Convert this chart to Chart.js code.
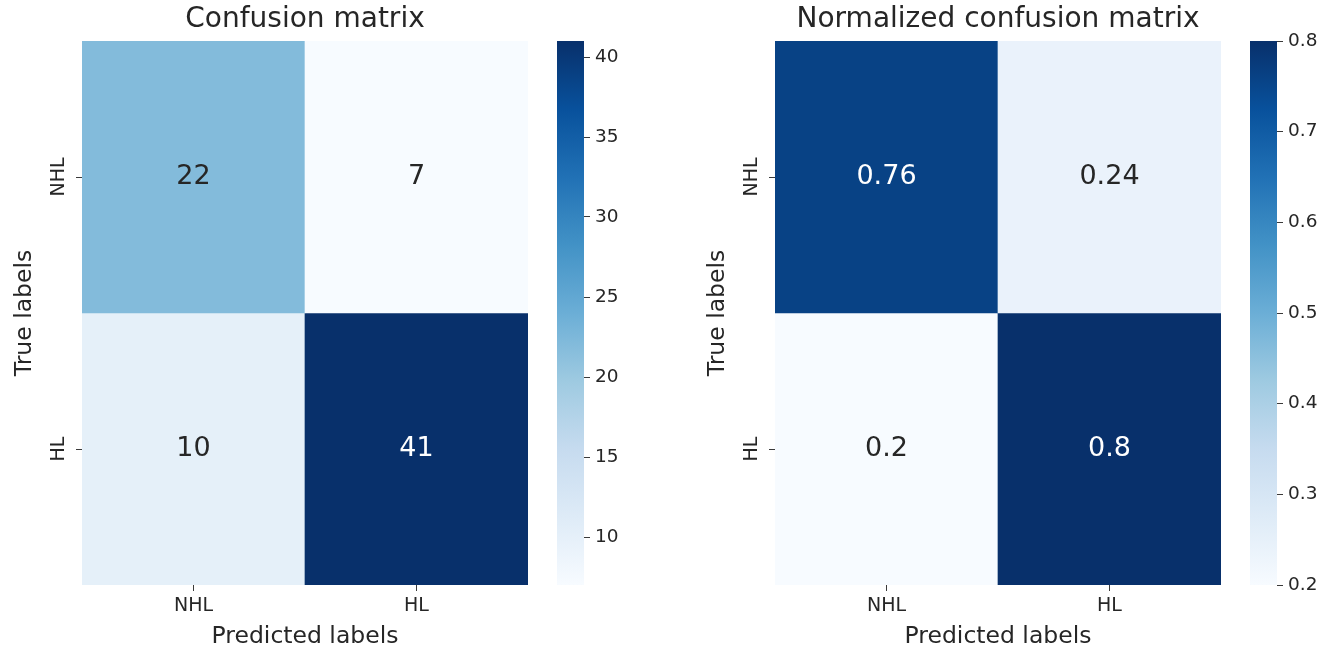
<!DOCTYPE html>
<html>
<head>
<meta charset="utf-8">
<script src="https://cdn.jsdelivr.net/npm/chart.js@4.4.1/dist/chart.umd.min.js"></script>
<style>
  html, body { margin: 0; padding: 0; background: #fff; width: 1327px; height: 652px; overflow: hidden; }
  .box { position: absolute; top: 0; height: 652px; }
</style>
</head>
<body>
<div class="box" style="left:0;width:540px"><canvas id="cm"></canvas></div>
<div class="box" style="left:557px;width:80px"><canvas id="cmBar"></canvas></div>
<div class="box" style="left:693px;width:540px"><canvas id="ncm"></canvas></div>
<div class="box" style="left:1250px;width:77px"><canvas id="ncmBar"></canvas></div>
<script>
// Class names along each axis
const predictedLabels = ['NHL', 'HL'];
const trueLabels = ['NHL', 'HL'];

// Raw counts (rows = true class, columns = predicted class)
const counts = [
  [22, 7],
  [10, 41]
];

// Row-normalised rates
const normalized = [
  [0.76, 0.24],
  [0.2, 0.8]
];

// Colour bar tick values
const countTicks = [10, 15, 20, 25, 30, 35, 40];
const normalizedTicks = [0.2, 0.3, 0.4, 0.5, 0.6, 0.7, 0.8];

// "Blues" sequential colour map stops
const BLUES = ['#f7fbff', '#deebf7', '#c6dbef', '#9ecae1', '#6baed6', '#4292c6', '#2171b5', '#08519c', '#08306b'];

const FONT = 'DejaVu Sans';
const INK = '#262626';
Chart.defaults.font.family = FONT;
Chart.defaults.color = INK;

function hexToRgb(h) {
  return [1, 3, 5].map(i => parseInt(h.slice(i, i + 2), 16));
}
function blues(t) {
  t = Math.min(1, Math.max(0, t));
  const pos = t * (BLUES.length - 1);
  const i = Math.min(Math.floor(pos), BLUES.length - 2);
  const f = pos - i;
  const a = hexToRgb(BLUES[i]), b = hexToRgb(BLUES[i + 1]);
  return a.map((c, k) => Math.round(c + (b[k] - c) * f));
}
function rgbStr(c) { return 'rgb(' + c.join(',') + ')'; }
function luminance(c) {
  const l = c.map(v => {
    v /= 255;
    return v <= 0.03928 ? v / 12.92 : Math.pow((v + 0.055) / 1.055, 2.4);
  });
  return 0.2126 * l[0] + 0.7152 * l[1] + 0.0722 * l[2];
}

// Writes each cell's value in its centre
const cellText = {
  id: 'cellText',
  afterDatasetsDraw(chart) {
    const { ctx } = chart;
    ctx.save();
    ctx.font = '27px "' + FONT + '"';
    ctx.textAlign = 'center';
    ctx.textBaseline = 'middle';
    chart.data.datasets.forEach((ds, di) => {
      chart.getDatasetMeta(di).data.forEach((bar, ci) => {
        const p = bar.getCenterPoint();
        ctx.fillStyle = luminance(ds.cellRgb[ci]) > 0.408 ? INK : '#ffffff';
        ctx.fillText(String(ds.values[ci]), p.x, p.y);
      });
    });
    ctx.restore();
  }
};

const tickGrid = {
  drawOnChartArea: false,
  drawTicks: true,
  tickLength: 6,
  tickColor: '#3a3a3a',
  tickWidth: 1
};

function heatmap(id, matrix, title) {
  const flat = matrix.flat();
  const vmin = Math.min(...flat), vmax = Math.max(...flat);
  const datasets = trueLabels.map((name, r) => {
    const rgb = matrix[r].map(v => blues((v - vmin) / (vmax - vmin)));
    return {
      label: name,
      data: predictedLabels.map(() => [r, r + 1]),
      values: matrix[r],
      cellRgb: rgb,
      backgroundColor: rgb.map(rgbStr),
      borderWidth: 0,
      grouped: false,
      barPercentage: 1,
      categoryPercentage: 1
    };
  });
  return new Chart(document.getElementById(id), {
    type: 'bar',
    data: { labels: predictedLabels, datasets },
    plugins: [cellText],
    options: {
      animation: false,
      responsive: true,
      maintainAspectRatio: false,
      events: [],
      layout: { padding: { top: 0, right: 12, bottom: 0, left: 0 } },
      plugins: {
        legend: { display: false },
        tooltip: { enabled: false },
        title: {
          display: true,
          text: title,
          fullSize: false,
          color: INK,
          font: { family: FONT, size: 28, weight: 'normal' },
          padding: { top: 3, bottom: 4.4 }
        }
      },
      scales: {
        x: {
          type: 'category',
          offset: true,
          grid: Object.assign({ offset: false }, tickGrid),
          border: { display: false },
          ticks: { font: { size: 19 }, color: INK, padding: 4, maxRotation: 0 },
          title: {
            display: true,
            text: 'Predicted labels',
            color: INK,
            font: { size: 23.5 },
            padding: { top: 0, bottom: 1 }
          },
          afterFit: s => { s.height = 67; }
        },
        y: {
          type: 'linear',
          reverse: true,
          min: 0,
          max: trueLabels.length,
          grid: tickGrid,
          border: { display: false },
          afterBuildTicks: s => { s.ticks = trueLabels.map((_, i) => ({ value: i + 0.5 })); },
          ticks: {
            font: { size: 19 },
            color: INK,
            padding: -3,
            minRotation: 90,
            maxRotation: 90,
            crossAlign: 'center',
            callback: (v, i) => trueLabels[i]
          },
          title: {
            display: true,
            text: 'True labels',
            color: INK,
            font: { size: 23.5 },
            padding: { top: 11, bottom: 0 }
          },
          afterFit: s => { s.width = 82; }
        }
      }
    }
  });
}

function colorbar(id, matrix, ticks, fmt, axisWidth) {
  const flat = matrix.flat();
  const vmin = Math.min(...flat), vmax = Math.max(...flat);
  return new Chart(document.getElementById(id), {
    type: 'bar',
    data: {
      labels: [''],
      datasets: [{
        data: [[vmin, vmax]],
        backgroundColor: c => {
          const area = c.chart.chartArea;
          if (!area) return BLUES[0];
          const g = c.chart.ctx.createLinearGradient(0, area.bottom, 0, area.top);
          BLUES.forEach((col, i) => g.addColorStop(i / (BLUES.length - 1), col));
          return g;
        },
        borderWidth: 0,
        barPercentage: 1,
        categoryPercentage: 1
      }]
    },
    options: {
      animation: false,
      responsive: true,
      maintainAspectRatio: false,
      events: [],
      layout: { padding: { top: 41, bottom: 67, left: 0, right: 0 } },
      plugins: { legend: { display: false }, tooltip: { enabled: false } },
      scales: {
        x: { display: false },
        y: {
          position: 'right',
          min: vmin,
          max: vmax,
          grid: tickGrid,
          border: { display: false },
          afterBuildTicks: s => { s.ticks = ticks.map(v => ({ value: v })); },
          ticks: { font: { size: 18.5 }, color: INK, padding: 5, callback: v => fmt(v) },
          afterFit: s => { s.width = axisWidth; }
        }
      }
    }
  });
}

heatmap('cm', counts, 'Confusion matrix');
colorbar('cmBar', counts, countTicks, v => String(v), 53);
heatmap('ncm', normalized, 'Normalized confusion matrix');
colorbar('ncmBar', normalized, normalizedTicks, v => v.toFixed(1), 50);
</script>
</body>
</html>
